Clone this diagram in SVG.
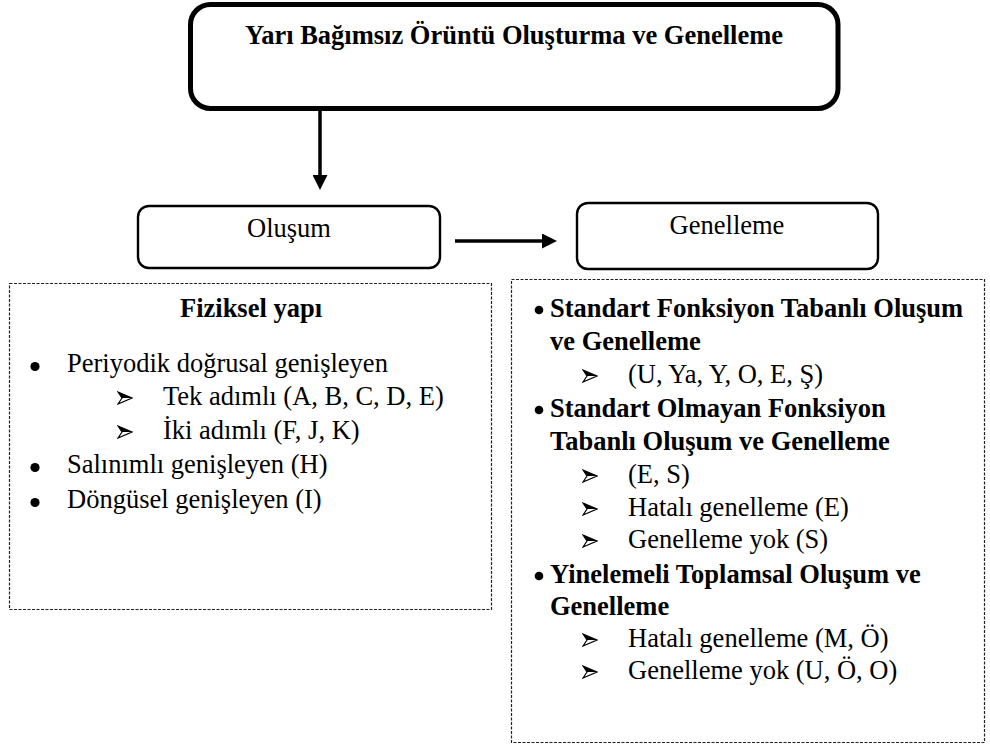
<svg xmlns="http://www.w3.org/2000/svg" width="990" height="749" viewBox="0 0 990 749">
  <style>
    text { font-family: "Liberation Serif", Tinos, "Times New Roman", "DejaVu Serif", "Noto Serif", serif; font-size: 26.5px; fill: #000; }
    .b { font-weight: bold; }
    .mid { text-anchor: middle; }
    .main { fill: #fff; stroke: #000; stroke-width: 5; }
    .sub { fill: #fff; stroke: #000; stroke-width: 2.4; }
    .panel { fill: #fff; stroke: #222; stroke-width: 1.2; stroke-dasharray: 3 1.5; }
    .link { stroke: #000; stroke-width: 3.5; fill: none; }
    .dot { fill: #000; }
  </style>
  <defs>
    <marker id="head" markerUnits="userSpaceOnUse" viewBox="0 0 15 15" markerWidth="15" markerHeight="15" refX="5" refY="7.5" orient="auto">
      <path d="M0,0 L15,7.5 L0,15 Z" fill="#000"/>
    </marker>
    <!-- list marker: shaded arrowhead -->
    <symbol id="tick" viewBox="0 0 16 14" width="16" height="14">
      <path d="M1,1 L15,7 L1,13 L5,7 Z" fill="#fff" stroke="#000" stroke-width="1.2" stroke-linejoin="miter"/>
      <path d="M1,1 L15,7 L5,7 Z" fill="#000"/>
    </symbol>
  </defs>

  <rect width="990" height="749" fill="#fff"/>

  <g id="title">
    <rect class="main" x="190.5" y="4.5" width="647.5" height="104" rx="20"/>
    <text class="b mid" x="514" y="44">Yarı Bağımsız Örüntü Oluşturma ve Genelleme</text>
  </g>

  <g id="connectors">
    <line class="link" x1="320" y1="111" x2="320" y2="180" marker-end="url(#head)"/>
    <line class="link" x1="455" y1="241" x2="547" y2="241" marker-end="url(#head)"/>
  </g>

  <g id="olusum">
    <rect class="sub" x="138" y="206" width="302" height="62" rx="11"/>
    <text class="mid" x="289" y="237">Oluşum</text>
  </g>

  <g id="genelleme">
    <rect class="sub" x="577" y="203" width="301" height="66" rx="11"/>
    <text class="mid" x="727" y="234">Genelleme</text>
  </g>

  <g id="fiziksel-yapi">
    <rect class="panel" x="9.5" y="283.5" width="482" height="326"/>
    <text class="b mid" x="251" y="317">Fiziksel yapı</text>
    <circle class="dot" cx="35" cy="366.5" r="4.6"/>
    <text x="67" y="372">Periyodik doğrusal genişleyen</text>
    <use href="#tick" x="117" y="391"/>
    <text x="163" y="405">Tek adımlı (A, B, C, D, E)</text>
    <use href="#tick" x="117" y="425"/>
    <text x="163" y="439">İki adımlı (F, J, K)</text>
    <circle class="dot" cx="35" cy="467.5" r="4.6"/>
    <text x="67" y="473">Salınımlı genişleyen (H)</text>
    <circle class="dot" cx="35" cy="502.5" r="4.6"/>
    <text x="67" y="508">Döngüsel genişleyen (I)</text>
  </g>

  <g id="genelleme-turleri">
    <rect class="panel" x="511.5" y="279.5" width="473" height="463"/>
    <circle class="dot" cx="539" cy="310" r="4.3"/>
    <text class="b" x="550" y="317">Standart Fonksiyon Tabanlı Oluşum</text>
    <text class="b" x="550" y="350">ve Genelleme</text>
    <use href="#tick" x="582" y="369"/>
    <text x="628" y="383">(U, Ya, Y, O, E, Ş)</text>
    <circle class="dot" cx="539" cy="410" r="4.3"/>
    <text class="b" x="550" y="417">Standart Olmayan Fonksiyon</text>
    <text class="b" x="550" y="450">Tabanlı Oluşum ve Genelleme</text>
    <use href="#tick" x="582" y="469"/>
    <text x="628" y="483">(E, S)</text>
    <use href="#tick" x="582" y="502"/>
    <text x="628" y="516">Hatalı genelleme (E)</text>
    <use href="#tick" x="582" y="534"/>
    <text x="628" y="548">Genelleme yok (S)</text>
    <circle class="dot" cx="539" cy="576" r="4.3"/>
    <text class="b" x="550" y="583">Yinelemeli Toplamsal Oluşum ve</text>
    <text class="b" x="550" y="615">Genelleme</text>
    <use href="#tick" x="582" y="633"/>
    <text x="628" y="647">Hatalı genelleme (M, Ö)</text>
    <use href="#tick" x="582" y="665"/>
    <text x="628" y="679">Genelleme yok (U, Ö, O)</text>
  </g>
</svg>
